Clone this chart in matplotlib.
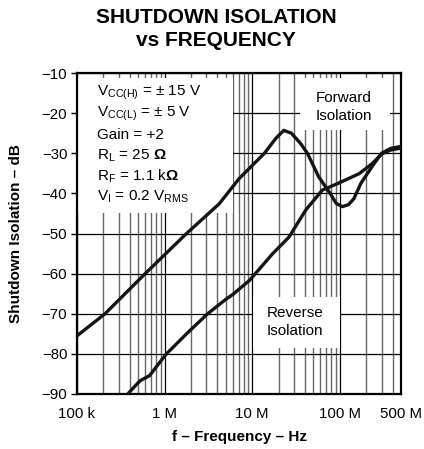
import matplotlib
matplotlib.use("Agg")
import matplotlib.pyplot as plt
from matplotlib.patches import Rectangle
from matplotlib.ticker import LogLocator, NullFormatter, FixedLocator

plt.rcParams['font.family'] = ['Liberation Sans', 'DejaVu Sans']
plt.rcParams['mathtext.fontset'] = 'custom'
plt.rcParams['mathtext.rm'] = 'Liberation Sans'
plt.rcParams['mathtext.it'] = 'Liberation Sans:italic'
plt.rcParams['mathtext.bf'] = 'Liberation Sans:bold'

# Forward isolation (Hz, dB)
fwd_freq = [1e5, 2.09e5, 6.0e5, 1.78e6, 4.2e6, 7.1e6, 1.38e7, 1.86e7, 2.29e7,
            2.8e7, 3.55e7, 4.27e7, 5.75e7, 7.76e7, 9.1e7, 1.07e8, 1.26e8,
            1.45e8, 1.74e8, 2.34e8, 3.0e8, 3.8e8, 5e8]
fwd_db = [-75.5, -70, -60, -50, -42.6, -36.3, -30, -26.3, -24.3,
          -25.0, -27.5, -30, -35.9, -40, -42.5, -43.3, -42.8,
          -41.3, -37.5, -33.3, -30, -28.8, -28.3]

# Reverse isolation (Hz, dB)
rev_freq = [3.8e5, 4.47e5, 5.25e5, 6.76e5, 9.1e5, 1.05e6, 1.78e6, 3.1e6,
            5.0e6, 6.0e6, 9.3e6, 1.7e7, 2.63e7, 4.07e7, 6.3e7, 9.8e7,
            1.66e8, 2.34e8, 3.0e8, 3.8e8, 5e8]
rev_db = [-90, -88.3, -86.7, -85.4, -81.7, -80, -75, -70,
          -66.4, -65.2, -61.7, -55.1, -50.9, -44.2, -39.2, -37.4,
          -35.1, -32.6, -30.2, -29.2, -28.7]

x_ticks = [1e5, 1e6, 1e7, 1e8, 5e8]
x_labels = ["100 k", "1 M", "10 M", "100 M", "500 M"]
y_ticks = [-10, -20, -30, -40, -50, -60, -70, -80, -90]

conditions = [r"$\mathregular{V_{CC(H)}}$ = $\pm$ 15 V",
              r"$\mathregular{V_{CC(L)}}$ = $\pm$ 5 V",
              "Gain = +2",
              r"$\mathregular{R_L}$ = 25 $\mathbf{\Omega}$",
              r"$\mathregular{R_F}$ = 1.1 k$\mathbf{\Omega}$",
              r"$\mathregular{V_I}$ = 0.2 $\mathregular{V_{RMS}}$"]

fig = plt.figure(figsize=(4.24, 4.49), dpi=100, facecolor="white")
ax = fig.add_axes([0.1816, 0.1225, 0.7642, 0.7149])

ax.set_xscale("log")
ax.set_xlim(1e5, 5e8)
ax.set_ylim(-90, -10)

ax.xaxis.set_major_locator(FixedLocator(x_ticks))
ax.set_xticklabels(x_labels)
ax.xaxis.set_minor_locator(LogLocator(base=10, subs=range(2, 10), numticks=20))
ax.xaxis.set_minor_formatter(NullFormatter())
ax.set_yticks(y_ticks)

ax.tick_params(axis="x", which="both", length=0, pad=9.5, labelsize=10.8)
ax.tick_params(axis="y", direction="out", length=4, width=1, pad=3, labelsize=10.8)

ax.set_axisbelow(True)
ax.grid(which="major", axis="both", color="black", lw=0.9)
ax.grid(which="minor", axis="x", color="#666666", lw=1.0)
for s in ax.spines.values():
    s.set_linewidth(1.6)

# white boxes that hide the grid behind the notes
for x0, y0, w, h in [(0.0, 0.564, 0.48, 0.42),
                     (0.688, 0.822, 0.278, 0.162),
                     (0.543, 0.143, 0.269, 0.159)]:
    ax.add_patch(Rectangle((x0, y0), w, h, transform=ax.transAxes,
                           facecolor="white", edgecolor="none", zorder=1))

ax.plot(fwd_freq, fwd_db, color="#151515", lw=2.4, solid_capstyle="round",
        solid_joinstyle="round", zorder=3)
ax.plot(rev_freq, rev_db, color="#151515", lw=2.4, solid_capstyle="round",
        solid_joinstyle="round", zorder=3)

for i, line in enumerate(conditions):
    ax.text(0.062, 0.938 - i * 0.0648, line, transform=ax.transAxes,
            ha="left", va="center", fontsize=11, zorder=4)

ax.text(0.824, 0.894, "Forward\nIsolation", transform=ax.transAxes,
        ha="center", va="center", fontsize=11, linespacing=1.35, zorder=4)
ax.text(0.673, 0.224, "Reverse\nIsolation", transform=ax.transAxes,
        ha="center", va="center", fontsize=11, linespacing=1.35, zorder=4)

fig.text(0.509, 0.962, "SHUTDOWN ISOLATION", ha="center", va="center",
         fontsize=15, fontweight="bold")
fig.text(0.509, 0.910, "vs FREQUENCY", ha="center", va="center",
         fontsize=15, fontweight="bold")
fig.text(0.564, 1 - 437 / 449, "f \u2013 Frequency \u2013 Hz", ha="center",
         va="center", fontsize=11, fontweight="bold")
fig.text(0.038, 1 - 233.5 / 449, "Shutdown Isolation \u2013 dB", ha="center",
         va="center", rotation=90, fontsize=11, fontweight="bold")

fig.savefig("out.png", dpi=100, facecolor="white")
